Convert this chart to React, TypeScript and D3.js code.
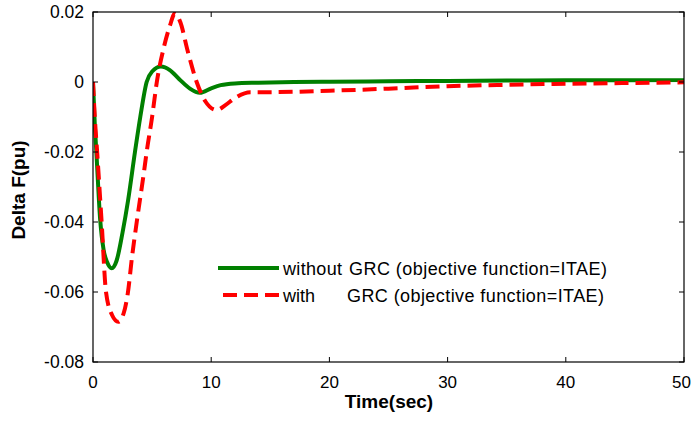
import React from "react";
import * as d3 from "d3";

const xTicks = [0, 10, 20, 30, 40, 50];
const yTicks = [0.02, 0, -0.02, -0.04, -0.06, -0.08];
const yTickLabels = ["0.02", "0", "-0.02", "-0.04", "-0.06", "-0.08"];

const greenT = [0, 0.15, 0.3, 0.6, 0.9, 1.2, 1.58, 2.0, 2.5, 2.96, 3.55, 4.0, 4.54, 5.0, 5.75, 6.5, 7.3, 8.2, 9.05, 10, 10.8, 12, 14, 17, 20, 25, 30, 35, 40, 45, 50];
const greenV = [0, -0.012, -0.021, -0.039, -0.048, -0.0515, -0.0532, -0.051, -0.043, -0.034, -0.02, -0.01, 0, 0.003, 0.0044, 0.0034, 0.0008, -0.0019, -0.0031, -0.0018, -0.0009, -0.0004, -0.0002, 0, 0.0001, 0.0002, 0.0003, 0.0004, 0.0005, 0.0005, 0.0006];

const redT = [0, 0.15, 0.35, 0.73, 1.1, 1.6, 2.14, 2.6, 2.96, 3.3, 3.7, 4.3, 4.54, 5.0, 5.4, 6.0, 6.5, 6.94, 7.4, 8.0, 8.77, 9.5, 10.46, 11.2, 12, 13.3, 15, 20, 25, 30, 35, 40, 45, 50];
const redV = [0, -0.01, -0.02, -0.04, -0.06, -0.0665, -0.0685, -0.066, -0.06, -0.05, -0.04, -0.026, -0.02, -0.01, 0, 0.01, 0.016, 0.0196, 0.017, 0.009, 0, -0.0055, -0.008, -0.0066, -0.0046, -0.0029, -0.0029, -0.0025, -0.0019, -0.0012, -0.0008, -0.0005, -0.0003, -0.0001];

const legendLabels = ["without", "with", "GRC (objective function=ITAE)"];

export default function App() {
  const W = 692, H = 423;
  const L = 93, R = 684, T = 12, B = 362;
  const x = d3.scaleLinear().domain([0, 50]).range([L, R]);
  const y = d3.scaleLinear().domain([-0.08, 0.02]).range([B, T]);
  const line = d3
    .line<[number, number]>()
    .x((d) => x(d[0]))
    .y((d) => y(d[1]))
    .curve(d3.curveMonotoneX);
  const gData = greenT.map((t, i) => [t, greenV[i]] as [number, number]);
  const rData = redT.map((t, i) => [t, redV[i]] as [number, number]);
  const font = "Arial, 'Liberation Sans', sans-serif";
  const tl = 5;
  const tickFs = 17;
  return (
    <svg width={W} height={H} style={{ position: "absolute", left: 0, top: 0, background: "#fff" }}>
      <rect x={0} y={0} width={W} height={H} fill="#fff" />
      <defs>
        <clipPath id="plotclip">
          <rect x={L} y={T} width={R - L} height={B - T} />
        </clipPath>
      </defs>
      <g clipPath="url(#plotclip)">
        <path d={line(gData) || ""} fill="none" stroke="#008000" strokeWidth={4} />
        <path d={line(rData) || ""} fill="none" stroke="#ff0000" strokeWidth={4} strokeDasharray="14,7" />
      </g>
      <rect x={L} y={T} width={R - L} height={B - T} fill="none" stroke="#000" strokeWidth={1.2} />
      {xTicks.map((t, i) => {
        const last = i === xTicks.length - 1;
        return (
          <g key={"x" + t}>
            <line x1={x(t)} x2={x(t)} y1={B} y2={B - tl} stroke="#000" />
            <line x1={x(t)} x2={x(t)} y1={T} y2={T + tl} stroke="#000" />
            <text
              x={last ? W - 1 : x(t)}
              y={B + 26}
              textAnchor={last ? "end" : "middle"}
              fontFamily={font}
              fontSize={tickFs}
              fill="#000"
            >
              {t}
            </text>
          </g>
        );
      })}
      {yTicks.map((v, i) => (
        <g key={"y" + i}>
          <line x1={L} x2={L + tl} y1={y(v)} y2={y(v)} stroke="#000" />
          <line x1={R} x2={R - tl} y1={y(v)} y2={y(v)} stroke="#000" />
          <text x={L - 9} y={y(v) + 6} textAnchor="end" fontFamily={font} fontSize={17.5} fill="#000">
            {yTickLabels[i]}
          </text>
        </g>
      ))}
      <text x={389} y={408} textAnchor="middle" fontFamily={font} fontSize={19} fontWeight="bold" fill="#000">
        Time(sec)
      </text>
      <text
        transform={`translate(25,190) rotate(-90)`}
        textAnchor="middle"
        fontFamily={font}
        fontSize={19}
        fontWeight="bold"
        fill="#000"
      >
        Delta F(pu)
      </text>
      <line x1={218} x2={279} y1={268} y2={268} stroke="#008000" strokeWidth={4} />
      <line x1={223} x2={279} y1={295} y2={295} stroke="#ff0000" strokeWidth={4} strokeDasharray="14,7" />
      <text x={283} y={275} fontFamily={font} fontSize={18} fill="#000" textLength={59} lengthAdjust="spacing">
        {legendLabels[0]}
      </text>
      <text x={349} y={275} fontFamily={font} fontSize={18} fill="#000" textLength={258} lengthAdjust="spacing">
        {legendLabels[2]}
      </text>
      <text x={283} y={302} fontFamily={font} fontSize={18} fill="#000" textLength={32} lengthAdjust="spacing">
        {legendLabels[1]}
      </text>
      <text x={347} y={302} fontFamily={font} fontSize={18} fill="#000" textLength={257} lengthAdjust="spacing">
        {legendLabels[2]}
      </text>
    </svg>
  );
}
